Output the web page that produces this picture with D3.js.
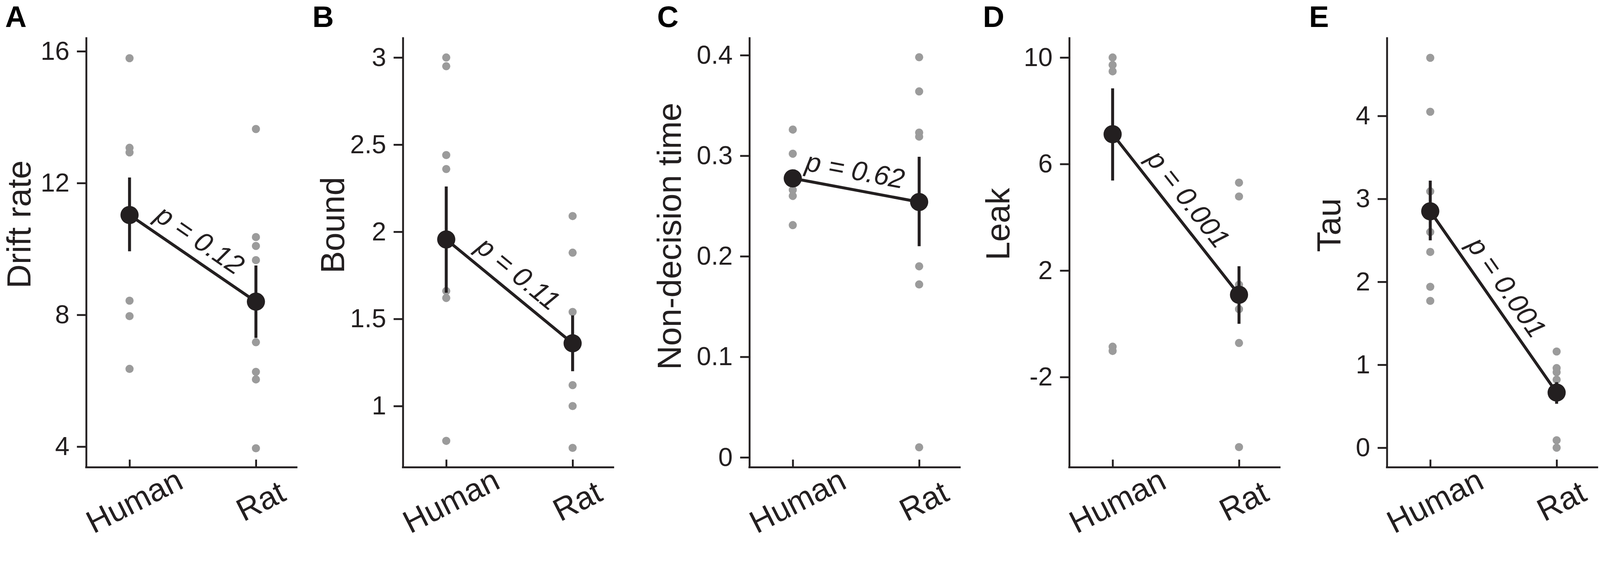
<!DOCTYPE html>
<html>
<head>
<meta charset="utf-8">
<script src="https://cdn.jsdelivr.net/npm/d3@7"></script>
<style>
  html, body { margin: 0; padding: 0; background: #ffffff; overflow: hidden; }
  svg { display: block; }
</style>
</head>
<body>
<script>
// ---------------- DATA ----------------
const categories = ["Human", "Rat"];
const panelLetters = ["A", "B", "C", "D", "E"];
const yLabels = ["Drift rate", "Bound", "Non-decision time", "Leak", "Tau"];
const yTicks = [
  [4, 8, 12, 16],
  [1, 1.5, 2, 2.5, 3],
  [0, 0.1, 0.2, 0.3, 0.4],
  [-2, 2, 6, 10],
  [0, 1, 2, 3, 4]
];
const yDomains = [
  [3.37, 16.43],
  [0.648, 3.117],
  [-0.00996, 0.418],
  [-5.392, 10.766],
  [-0.237, 4.95]
];
const pLabels = ["p = 0.12", "p = 0.11", "p = 0.62", "p = 0.001", "p = 0.001"];

const humanPoints = [
  [15.79, 13.07, 12.93, 8.43, 7.96, 6.36],
  [3.0, 2.95, 2.44, 2.36, 1.66, 1.62, 0.80],
  [0.326, 0.302, 0.266, 0.260, 0.231],
  [10.0, 9.72, 9.48, -0.86, -1.02],
  [4.70, 4.05, 3.09, 2.60, 2.36, 1.94, 1.77]
];
const ratPoints = [
  [13.64, 10.36, 10.09, 9.66, 7.17, 6.27, 6.04, 3.95],
  [2.09, 1.88, 1.54, 1.12, 1.0, 0.76],
  [0.398, 0.364, 0.323, 0.319, 0.190, 0.172, 0.010],
  [5.30, 4.78, 1.47, 0.55, -0.72, -4.63],
  [1.16, 0.96, 0.91, 0.82, 0.09, 0.0]
];
const humanMean = [11.03, 1.956, 0.2775, 7.12, 2.85];
const humanErrHigh = [12.17, 2.26, 0.284, 8.84, 3.22];
const humanErrLow = [9.93, 1.65, 0.271, 5.38, 2.50];
const ratMean = [8.40, 1.36, 0.254, 1.09, 0.665];
const ratErrHigh = [9.50, 1.52, 0.299, 2.16, 0.79];
const ratErrLow = [7.30, 1.20, 0.210, 0.0, 0.53];

// ---------------- LAYOUT ----------------
const W = 4317, H = 1458;
const FONT = "'Liberation Sans', Arial, Helvetica, sans-serif";
const INK = "#231f20";
const GREY = "#9b9b9b";
const layout = {
  axisX: [232.5, 1087, 2022, 2885, 3742],
  yTop: 100,
  yBottom: 1260,
  axisLen: 570,
  catStart: 117,
  catEnd: 458,
  letterX: [14, 843, 1773, 2652, 3532],
  letterY: 73,
  ylabX: [82, 929, 1837, 2723, 3616],
  ylabY: [605, 607, 637, 604, 607]
};

// fit the drawing to the viewport width, keeping the aspect ratio
const vw = document.documentElement.clientWidth || window.innerWidth || W;
const svg = d3.select("body").append("svg")
  .attr("width", vw).attr("height", vw * H / W)
  .attr("viewBox", `0 0 ${W} ${H}`)
  .attr("preserveAspectRatio", "xMinYMin meet");
svg.append("rect").attr("width", W).attr("height", H).attr("fill", "#ffffff");

panelLetters.forEach((letter, i) => {
  const g = svg.append("g");
  const x0 = layout.axisX[i];
  const x = d3.scalePoint().domain(categories)
    .range([x0 + layout.catStart, x0 + layout.catEnd]);
  const y = d3.scaleLinear().domain(yDomains[i])
    .range([layout.yBottom, layout.yTop]);

  // panel letter
  g.append("text")
    .attr("x", layout.letterX[i]).attr("y", layout.letterY)
    .attr("font-family", FONT).attr("font-weight", 900)
    .attr("font-size", 80).attr("fill", "#000")
    .text(letter);

  // y label
  g.append("text")
    .attr("transform", `translate(${layout.ylabX[i]},${layout.ylabY[i]}) rotate(-90)`)
    .attr("text-anchor", "middle")
    .attr("font-family", FONT).attr("font-size", 90).attr("fill", INK)
    .text(yLabels[i]);

  // y axis
  const ya = g.append("g").attr("transform", `translate(${x0},0)`)
    .call(d3.axisLeft(y).tickValues(yTicks[i]).tickSize(25).tickSizeOuter(0)
      .tickPadding(20).tickFormat(d => String(d)));
  ya.select(".domain").attr("stroke", INK).attr("stroke-width", 5);
  ya.selectAll(".tick line").attr("stroke", INK).attr("stroke-width", 5);
  ya.selectAll(".tick text").attr("font-size", 70).attr("font-family", FONT).attr("fill", INK);

  // x axis
  g.append("line")
    .attr("x1", x0 - 2.5).attr("x2", x0 + layout.axisLen)
    .attr("y1", layout.yBottom).attr("y2", layout.yBottom)
    .attr("stroke", INK).attr("stroke-width", 5);
  const xa = g.append("g").attr("transform", `translate(0,${layout.yBottom})`)
    .call(d3.axisBottom(x).tickSize(-21).tickSizeOuter(0));
  xa.select(".domain").remove();
  xa.selectAll(".tick line").attr("stroke", INK).attr("stroke-width", 5);
  xa.selectAll(".tick text")
    .attr("y", null).attr("dy", "0.35em")
    .attr("transform", "translate(12,90) rotate(-27)")
    .attr("text-anchor", "middle")
    .attr("font-size", 86).attr("font-family", FONT).attr("fill", INK);

  // individual points
  const pts = [];
  humanPoints[i].forEach(v => pts.push({ c: categories[0], v }));
  ratPoints[i].forEach(v => pts.push({ c: categories[1], v }));
  g.append("g").selectAll("circle").data(pts).join("circle")
    .attr("cx", d => x(d.c)).attr("cy", d => y(d.v))
    .attr("r", 11).attr("fill", GREY);

  const means = [
    { c: categories[0], m: humanMean[i], lo: humanErrLow[i], hi: humanErrHigh[i] },
    { c: categories[1], m: ratMean[i], lo: ratErrLow[i], hi: ratErrHigh[i] }
  ];

  // connecting line
  g.append("path").datum(means)
    .attr("d", d3.line().x(d => x(d.c)).y(d => y(d.m)))
    .attr("fill", "none").attr("stroke", INK).attr("stroke-width", 8);

  // error bars
  g.append("g").selectAll("line").data(means).join("line")
    .attr("x1", d => x(d.c)).attr("x2", d => x(d.c))
    .attr("y1", d => y(d.lo)).attr("y2", d => y(d.hi))
    .attr("stroke", INK).attr("stroke-width", 8);

  // mean markers
  g.append("g").selectAll("circle").data(means).join("circle")
    .attr("cx", d => x(d.c)).attr("cy", d => y(d.m))
    .attr("r", 24.5).attr("fill", INK);

  // p-value label along the line
  const ax = x(categories[0]), ay = y(humanMean[i]);
  const bx = x(categories[1]), by = y(ratMean[i]);
  const dx = bx - ax, dy = by - ay, len = Math.hypot(dx, dy);
  const ux = dx / len, uy = dy / len;
  const nx = uy, ny = -ux; // normal pointing up
  const along = -12, off = 27;
  const px = (ax + bx) / 2 + ux * along + nx * off;
  const py = (ay + by) / 2 + uy * along + ny * off;
  const ang = Math.atan2(dy, dx) * 180 / Math.PI;
  g.append("text")
    .attr("transform", `translate(${px},${py}) rotate(${ang})`)
    .attr("text-anchor", "middle")
    .attr("font-family", FONT).attr("font-style", "italic")
    .attr("font-size", 74).attr("fill", INK)
    .text(pLabels[i]);
});
</script>
</body>
</html>
